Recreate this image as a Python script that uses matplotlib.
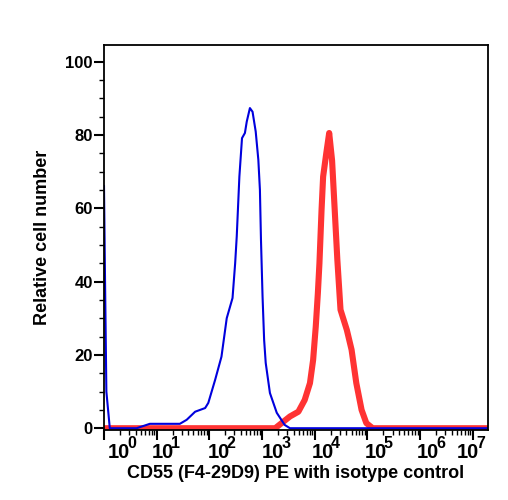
import numpy as np
import matplotlib
matplotlib.use("Agg")
from matplotlib import pyplot as plt
from matplotlib.ticker import FixedLocator, LogLocator, NullFormatter, MultipleLocator
import matplotlib.transforms as mtransforms

plt.rcParams['font.family'] = ['Liberation Sans', 'DejaVu Sans']

# Posiciones en décadas (log10 de la fluorescencia) y número relativo de células
isotype_decades = [0.0, 0.02, 0.045, 0.11, 0.62, 0.87, 1.44, 1.57, 1.73, 1.92, 1.98,
                   2.11, 2.23, 2.33, 2.44, 2.49, 2.52, 2.57, 2.62, 2.675, 2.71, 2.77,
                   2.82, 2.88, 2.93, 2.96, 2.98, 3.01, 3.04, 3.07, 3.15, 3.28, 3.43,
                   3.53, 7.3]
isotype_counts = [66, 40, 10, 0, 0, 1.2, 1.2, 2.3, 4.5, 5.5, 6.9,
                  13.2, 19.5, 30, 35.5, 45, 52.3, 68.6, 79.1, 80.5, 83.6, 87.3,
                  86.3, 80.9, 73.2, 65, 51.4, 35.9, 24.1, 17.8, 9.6, 4.2, 0.9,
                  0, 0]

cd55_decades = [0.0, 3.25, 3.53, 3.69, 3.81, 3.91, 3.97, 4.02, 4.06, 4.09, 4.13,
                4.16, 4.22, 4.275, 4.33, 4.38, 4.43, 4.49, 4.61, 4.70, 4.79, 4.89,
                4.98, 5.1, 7.3]
cd55_counts = [0, 0, 3.2, 4.5, 7.7, 12.3, 18.6, 27.7, 36.8, 45, 59.5,
               68.6, 75, 80.5, 73, 59.5, 45.9, 32.3, 26.8, 21.4, 12.3, 5,
               1.4, 0, 0]

x_exponents = [0, 1, 2, 3, 4, 5, 6, 7]
y_ticks = [0, 20, 40, 60, 80, 100]

fig = plt.figure(figsize=(5.08, 5.0), dpi=100)
ax = fig.add_axes([104 / 508, 1 - 429.5 / 500, 384 / 508, 384.5 / 500])

ax.plot(10 ** np.array(cd55_decades), cd55_counts, color='#ff3333', lw=4.4,
        solid_joinstyle='round', solid_capstyle='butt')
ax.plot(10 ** np.array(isotype_decades), isotype_counts, color='#0000dd', lw=1.5)

ax.set_xscale('log')
ax.set_xlim(1, 10 ** 7.29)
ax.set_ylim(-0.35, 104.5)

ax.xaxis.set_major_locator(FixedLocator([10.0 ** e for e in x_exponents]))
ax.xaxis.set_minor_locator(LogLocator(base=10, subs=np.arange(2, 10), numticks=20))
ax.xaxis.set_minor_formatter(NullFormatter())
ax.tick_params(axis='x', labelbottom=False)

# Etiquetas 10^n a mano ("10" grande y exponente aparte), corridas como en el original (px)
label_dx = [4, -5, -2, 0, -3, -3, -3, -16]
base = mtransforms.blended_transform_factory(ax.transData, ax.transAxes)
for e, dx in zip(x_exponents, label_dx):
    off = mtransforms.ScaledTranslation(dx / 100, -28 / 100, fig.dpi_scale_trans)
    ax.text(10.0 ** e, 0, '10', transform=base + off, ha='left', va='baseline',
            fontsize=14.5, fontweight='bold', clip_on=False)
    off2 = mtransforms.ScaledTranslation((dx + 19.5) / 100, -19 / 100,
                                         fig.dpi_scale_trans)
    ax.text(10.0 ** e, 0, str(e), transform=base + off2, ha='left', va='baseline',
            fontsize=11.5, fontweight='bold', clip_on=False)

ax.yaxis.set_major_locator(FixedLocator(y_ticks))
ax.yaxis.set_minor_locator(MultipleLocator(5))
ax.set_yticklabels([str(v) for v in y_ticks], fontsize=12, fontweight='bold')

ax.tick_params(axis='both', which='major', direction='out', length=7, width=1.5,
               color='black')
ax.tick_params(axis='both', which='minor', direction='out', length=3.5, width=1,
               color='black')
ax.tick_params(axis='y', which='major', pad=1)

for sp in ax.spines.values():
    sp.set_linewidth(1.3)

fig.text(296 / 508, 1 - 474 / 500, 'CD55 (F4-29D9) PE with isotype control',
         fontsize=13, fontweight='bold', ha='center', va='center')
ax.set_ylabel('Relative cell number', fontsize=13, fontweight='bold', labelpad=10)

fig.savefig('out.png', dpi=100)
